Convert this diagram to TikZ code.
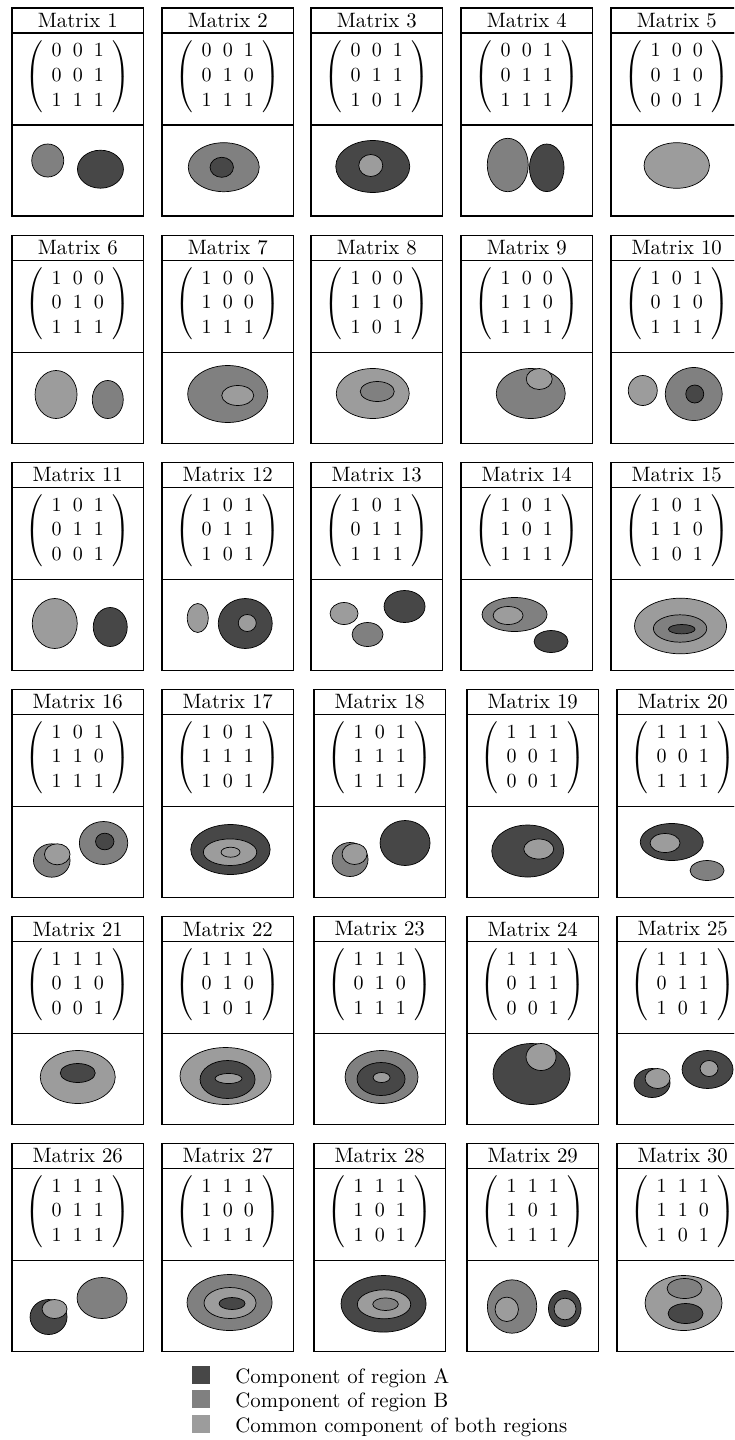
\documentclass[tikz,border=0pt]{standalone}
\usepackage{amsmath}

\definecolor{colA}{gray}{0.28}
\definecolor{colB}{gray}{0.50}
\definecolor{colC}{gray}{0.61}

\tikzset{
  box/.style={draw=black,line width=0.6pt},
  ttl/.style={inner sep=0pt},
  mtx/.style={inner sep=0pt},
  regA/.style={fill=colA,draw=black,line width=0.35pt},
  regB/.style={fill=colB,draw=black,line width=0.35pt},
  regC/.style={fill=colC,draw=black,line width=0.35pt},
  keybox/.style={minimum size=9pt,inner sep=0pt},
}

% one region component: colour, dx, dy, x radius, y radius
\newcommand{\blob}[5]{\draw[reg#1] (#2,#3) ellipse [x radius=#4, y radius=#5];}

% one cell: number, left, top, matrix rows, components
\newcommand{\mtxcell}[5]{%
  \draw[box] (#2,#3) rectangle ++(131.5,25);
  \draw[box] (#2,#3+25) rectangle ++(131.5,92);
  \draw[box] (#2,#3+117) rectangle ++(131.5,91);
  \node[ttl] (t#1) at (#2+65.75,#3+12.5) {Matrix #1};
  \node[mtx] (m#1) at (#2+65.75,#3+68.5)
    {$\left(\,\begin{array}{ccc}#4\end{array}\,\right)$};
  \begin{scope}[shift={(#2+65.75,#3+162.5)}]
    #5
  \end{scope}
}

\setlength{\arraycolsep}{2.8pt}

\begin{document}
\begin{tikzpicture}[x=0.5pt,y=-0.5pt,font=\fontsize{10.4}{12.4}\selectfont]
  \useasboundingbox (0,0) rectangle (734,1440);
  \clip (0,0) rectangle (734,1440);

  % row 1
  \mtxcell{1}{12}{8}{0&0&1\\0&0&1\\1&1&1}
    {\blob{B}{-30}{-10}{16}{16.5} \blob{A}{22.7}{-1.3}{23}{19}}
  \mtxcell{2}{162}{8}{0&0&1\\0&1&0\\1&1&1}
    {\blob{B}{-4}{-3.3}{35.5}{24.5} \blob{A}{-6}{-3.2}{11.7}{10}}
  \mtxcell{3}{311}{8}{0&0&1\\0&1&1\\1&0&1}
    {\blob{A}{-4}{-4}{37}{26} \blob{C}{-6}{-5}{12}{11}}
  \mtxcell{4}{461}{8}{0&0&1\\0&1&1\\1&1&1}
    {\blob{B}{-19}{-5.5}{20.5}{26.7} \blob{A}{20}{-2.7}{17.3}{23.8}}
  \mtxcell{5}{611}{8}{1&0&0\\0&1&0\\0&0&1}
    {\blob{C}{0}{-5}{32.7}{22.8}}

  % row 2
  \mtxcell{6}{12}{235.5}{1&0&0\\0&1&0\\1&1&1}
    {\blob{C}{-21.7}{-3.5}{21}{24} \blob{B}{30}{1.5}{15.5}{19}}
  \mtxcell{7}{162}{235.5}{1&0&0\\1&0&0\\1&1&1}
    {\blob{B}{0}{-4}{40}{28.5} \blob{C}{10}{-2.5}{16}{10}}
  \mtxcell{8}{311}{235.5}{1&0&0\\1&1&0\\1&0&1}
    {\blob{C}{-4}{-4.5}{36.5}{25} \blob{B}{0.5}{-6.5}{17}{10}}
  \mtxcell{9}{461}{235.5}{1&0&0\\1&1&0\\1&1&1}
    {\blob{B}{4}{-4.5}{34.5}{25} \blob{C}{12.5}{-19}{13}{10.5}}
  \mtxcell{10}{611}{235.5}{1&0&1\\0&1&0\\1&1&1}
    {\blob{C}{-34}{-7.5}{14.5}{15} \blob{B}{17}{-4}{28.5}{26.5} \blob{A}{18}{-4}{9}{9}}

  % row 3
  \mtxcell{11}{12}{462.5}{1&0&1\\0&1&1\\0&0&1}
    {\blob{C}{-23}{-1.5}{22.5}{25} \blob{A}{32.5}{2}{17}{19.5}}
  \mtxcell{12}{162}{462.5}{1&0&1\\0&1&1\\1&0&1}
    {\blob{C}{-30}{-7}{10.5}{14.5} \blob{A}{17.5}{-1.5}{27}{25} \blob{C}{19.5}{-2}{9}{8.5}}
  \mtxcell{13}{311}{462.5}{1&0&1\\0&1&1\\1&1&1}
    {\blob{C}{-32.7}{-11.5}{14}{11} \blob{B}{-9.2}{9.5}{15.5}{12} \blob{A}{27.8}{-18.5}{20.5}{16}}
  \mtxcell{14}{461}{462.5}{1&0&1\\1&0&1\\1&1&1}
    {\blob{B}{-12.2}{-10.5}{32.5}{17} \blob{C}{-18.7}{-9.5}{15}{9} \blob{A}{24.3}{16.5}{17}{11}}
  \mtxcell{15}{611}{462.5}{1&0&1\\1&1&0\\1&0&1}
    {\blob{C}{3.8}{1}{46}{27.8} \blob{B}{3.3}{3.5}{26.7}{13.7} \blob{A}{5}{4.2}{13.3}{4.7}}

  % row 4
  \mtxcell{16}{12}{689.5}{1&0&1\\1&1&0\\1&1&1}
    {\blob{B}{-26}{8.5}{18.3}{16.7} \blob{C}{-20.5}{2.3}{12.8}{10.5}
     \blob{B}{25.8}{-9}{24.2}{21.5} \blob{A}{27}{-10.5}{9.2}{8.3}}
  \mtxcell{17}{162}{689.5}{1&0&1\\1&1&1\\1&0&1}
    {\blob{A}{2.7}{-2.5}{39.7}{25} \blob{C}{2.3}{0.2}{26.7}{13.3} \blob{C}{2.8}{0.2}{9.5}{5}}
  \mtxcell{18}{314}{689.5}{1&0&1\\1&1&1\\1&1&1}
    {\blob{B}{-29.7}{7.5}{18}{17} \blob{C}{-25.2}{2}{12.5}{10.5} \blob{A}{25.3}{-9}{25}{22.5}}
  \mtxcell{19}{467}{689.5}{1&1&1\\0&0&1\\0&0&1}
    {\blob{A}{-5}{-1}{36}{26} \blob{C}{6}{-3}{15}{10}}
  \mtxcell{20}{617}{689.5}{1&1&1\\0&0&1\\1&1&1}
    {\blob{A}{-11}{-10}{31.5}{18.5} \blob{C}{-17.7}{-9}{15}{9.5} \blob{B}{24.3}{18.5}{17}{10}}

  % row 5
  \mtxcell{21}{12}{916.5}{1&1&1\\0&1&0\\0&0&1}
    {\blob{C}{0}{-2}{37.5}{26.5} \blob{A}{0}{-6}{17.5}{9.5}}
  \mtxcell{22}{162}{916.5}{1&1&1\\0&1&0\\1&0&1}
    {\blob{C}{-2.2}{-3}{45.5}{28.5} \blob{A}{-0.2}{0.5}{27.5}{19} \blob{C}{0.8}{-0.5}{13.5}{5}}
  \mtxcell{23}{314}{916.5}{1&1&1\\0&1&0\\1&1&1}
    {\blob{B}{1.8}{-2}{36.5}{26.5} \blob{A}{1.3}{0}{24}{16.5} \blob{C}{1.8}{-1.5}{8.5}{5}}
  \mtxcell{24}{467}{916.5}{1&1&1\\0&1&1\\0&0&1}
    {\blob{A}{-1.2}{-5}{38.5}{30.5} \blob{C}{8.3}{-22}{15}{13.5}}
  \mtxcell{25}{617}{916.5}{1&1&1\\0&1&1\\1&0&1}
    {\blob{A}{-30.7}{4}{18}{14.5} \blob{C}{-25.2}{-0.5}{12.5}{10}
     \blob{A}{24.8}{-9.5}{25.5}{19} \blob{C}{26.3}{-10.5}{9}{8}}

  % row 6
  \mtxcell{26}{12}{1143.5}{1&1&1\\0&1&1\\1&1&1}
    {\blob{A}{-29.2}{11}{18.5}{17.5} \blob{C}{-23.2}{3}{12.5}{9.5} \blob{B}{24.3}{-8}{25}{20.5}}
  \mtxcell{27}{162}{1143.5}{1&1&1\\1&0&0\\1&1&1}
    {\blob{B}{1.8}{-3.5}{42.5}{28} \blob{C}{2.3}{-3}{26}{15.5} \blob{A}{4.3}{-2.5}{13}{6}}
  \mtxcell{28}{314}{1143.5}{1&1&1\\1&0&1\\1&0&1}
    {\blob{A}{3.8}{-2.2}{42.5}{28.3} \blob{C}{4.3}{-1.7}{26.7}{14.5} \blob{B}{5.8}{-1.8}{12.8}{6.3}}
  \mtxcell{29}{467}{1143.5}{1&1&1\\1&0&1\\1&1&1}
    {\blob{B}{-20.7}{0.5}{24.7}{26.7} \blob{C}{-26}{3.3}{11.7}{12.2}
     \blob{A}{32}{2.5}{16.3}{18} \blob{C}{32.3}{3}{11}{10.8}}
  \mtxcell{30}{617}{1143.5}{1&1&1\\1&1&0\\1&0&1}
    {\blob{C}{0.8}{-3}{38.5}{27.5} \blob{B}{1.8}{-17.5}{17.5}{10} \blob{A}{2.8}{7.5}{17.5}{10}}

  % legend
  \node[keybox,fill=colA] (kA) at (201,1374.5) {};
  \node[keybox,fill=colB] (kB) at (201,1399) {};
  \node[keybox,fill=colC] (kC) at (201,1424) {};
  \node[anchor=base west,inner sep=0pt] (lA) at (235,1383) {Component of region A};
  \node[anchor=base west,inner sep=0pt] (lB) at (235,1407.5) {Component of region B};
  \node[anchor=base west,inner sep=0pt] (lC) at (235,1432) {Common component of both regions};
\end{tikzpicture}
\end{document}
